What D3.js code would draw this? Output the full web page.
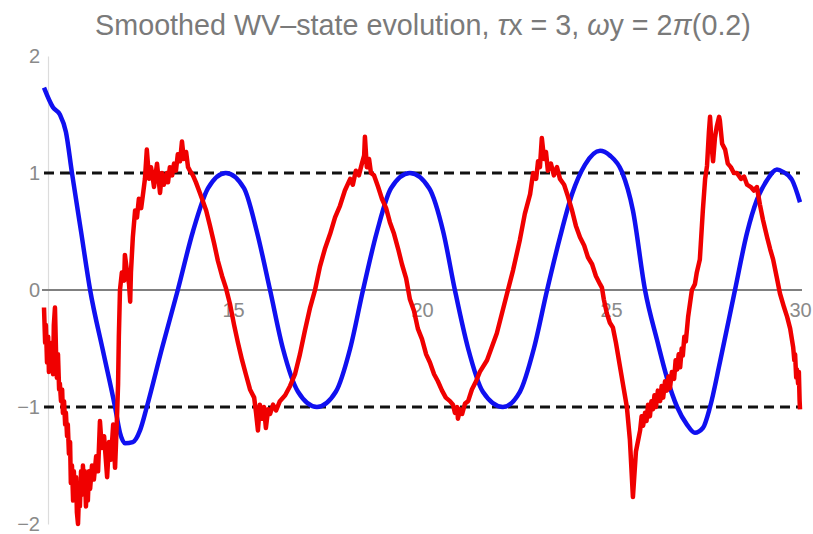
<!DOCTYPE html>
<html>
<head>
<meta charset="utf-8">
<script src="https://cdn.jsdelivr.net/npm/d3@7"></script>
<style>
  html, body { margin: 0; padding: 0; background: #fff; }
  svg { display: block; }
</style>
</head>
<body>
<svg id="chart" width="813" height="534"></svg>
<script>
// Blue: smoothed Wigner-Ville state (time, value)
const blueT = [10.00, 10.24, 10.42, 10.58, 10.74, 10.98, 11.22, 11.56, 11.88, 12.01, 12.14, 12.35, 12.54, 12.72,
  13.12, 13.54, 13.94, 14.34, 14.81, 15.29, 15.63, 15.98, 16.32, 16.72, 17.22, 17.72, 18.10, 18.44, 18.81,
  19.18, 19.68, 20.19, 20.56, 20.87, 21.22, 21.61, 22.14, 22.59, 22.96, 23.31, 23.65, 23.97, 24.31, 24.71,
  24.97, 25.29, 25.58, 25.90, 26.22, 26.48, 26.75, 27.01, 27.22, 27.43, 27.62, 27.88, 28.28, 28.60, 28.86,
  29.13, 29.39, 29.55, 29.79, 30.00];
const blueV = [1.73, 1.56, 1.50, 1.35, 1.00, 0.50, 0.00, -0.52, -1.00, -1.22, -1.31, -1.30, -1.20, -1.00,
  -0.50, 0.00, 0.50, 0.87, 1.00, 0.87, 0.50, 0.00, -0.50, -0.87, -1.00, -0.87, -0.50, 0.00, 0.50,
  0.87, 1.00, 0.87, 0.50, 0.00, -0.50, -0.87, -1.00, -0.87, -0.50, 0.00, 0.45, 0.82, 1.07, 1.19,
  1.15, 1.01, 0.68, 0.00, -0.43, -0.75, -1.00, -1.15, -1.22, -1.18, -1.00, -0.62, 0.00, 0.49, 0.77,
  0.94, 1.03, 1.01, 0.94, 0.75];

// Red: noisy estimate (time, value), ten samples per row
const redT = [
  10.00, 10.03, 10.05, 10.08, 10.11, 10.13, 10.16, 10.19, 10.21, 10.24,
  10.26, 10.29, 10.32, 10.34, 10.37, 10.40, 10.42, 10.45, 10.48, 10.50,
  10.53, 10.56, 10.58, 10.61, 10.63, 10.66, 10.69, 10.71, 10.74, 10.77,
  10.79, 10.82, 10.85, 10.87, 10.90, 10.93, 10.95, 10.98, 11.01, 11.03,
  11.06, 11.08, 11.11, 11.14, 11.16, 11.19, 11.22, 11.27, 11.32, 11.38,
  11.43, 11.48, 11.53, 11.59, 11.67, 11.72, 11.77, 11.83, 11.88, 11.93,
  11.96, 11.98, 12.01, 12.06, 12.12, 12.14, 12.20, 12.25, 12.28, 12.30,
  12.35, 12.41, 12.46, 12.51, 12.57, 12.62, 12.67, 12.72, 12.78, 12.83,
  12.86, 12.91, 12.99, 13.04, 13.07, 13.12, 13.17, 13.25, 13.28, 13.33,
  13.39, 13.44, 13.49, 13.54, 13.60, 13.65, 13.70, 13.76, 13.81, 13.86,
  13.94, 14.02, 14.10, 14.18, 14.29, 14.39, 14.50, 14.60, 14.71, 14.81,
  14.92, 15.03, 15.13, 15.24, 15.34, 15.45, 15.56, 15.61, 15.66, 15.71,
  15.77, 15.82, 15.87, 15.93, 15.98, 16.06, 16.14, 16.24, 16.38, 16.51,
  16.64, 16.77, 16.90, 17.04, 17.17, 17.30, 17.43, 17.57, 17.70, 17.83,
  17.96, 18.10, 18.17, 18.25, 18.33, 18.41, 18.47, 18.49, 18.54, 18.60,
  18.65, 18.73, 18.84, 18.94, 19.05, 19.15, 19.26, 19.37, 19.47, 19.58,
  19.68, 19.79, 19.89, 20.00, 20.11, 20.21, 20.32, 20.42, 20.53, 20.63,
  20.74, 20.82, 20.87, 20.93, 20.95, 21.01, 21.06, 21.14, 21.22, 21.32,
  21.43, 21.53, 21.72, 21.98, 22.25, 22.41, 22.59, 22.72, 22.86, 22.94,
  23.02, 23.07, 23.12, 23.17, 23.23, 23.28, 23.33, 23.41, 23.49, 23.57,
  23.65, 23.76, 23.86, 23.97, 24.07, 24.18, 24.29, 24.39, 24.50, 24.60,
  24.71, 24.76, 24.81, 24.89, 24.97, 25.05, 25.13, 25.24, 25.34, 25.42,
  25.50, 25.58, 25.66, 25.77, 25.81, 25.85, 25.90, 25.94, 25.98, 26.03,
  26.07, 26.11, 26.15, 26.19, 26.24, 26.30, 26.34, 26.38, 26.43, 26.48,
  26.52, 26.56, 26.61, 26.67, 26.71, 26.75, 26.79, 26.83, 26.87, 26.90,
  26.94, 26.98, 27.04, 27.14, 27.22, 27.27, 27.35, 27.43, 27.49, 27.54,
  27.59, 27.62, 27.67, 27.70, 27.75, 27.80, 27.86, 27.88, 27.94, 28.02,
  28.09, 28.17, 28.25, 28.33, 28.44, 28.52, 28.60, 28.70, 28.78, 28.86,
  28.94, 29.02, 29.13, 29.21, 29.29, 29.39, 29.47, 29.58, 29.66, 29.74,
  29.82, 29.85, 29.87, 29.90, 29.92, 29.95, 29.97, 29.99, 30.00];
const redV = [
  -0.15, -0.45, -0.30, -0.62, -0.40, -0.70, -0.50, -0.66, -0.45, -0.72,
  -0.30, -0.15, -0.55, -0.75, -0.55, -0.85, -0.80, -0.95, -0.85, -1.05,
  -0.95, -1.15, -1.05, -1.25, -1.15, -1.40, -1.30, -1.65, -1.50, -1.80,
  -1.55, -1.75, -1.60, -1.90, -2.00, -1.70, -1.85, -1.55, -1.75, -1.50,
  -1.70, -1.55, -1.85, -1.60, -1.80, -1.55, -1.70, -1.50, -1.62, -1.42,
  -1.55, -1.12, -1.35, -1.25, -1.60, -1.30, -1.45, -1.15, -1.52, -1.10,
  -0.80, -0.40, 0.00, 0.15, 0.08, 0.30, 0.15, 0.05, -0.10, 0.15,
  0.45, 0.68, 0.62, 0.78, 0.70, 0.82, 0.95, 1.20, 0.95, 1.05,
  1.00, 0.88, 1.08, 0.92, 0.83, 1.00, 0.90, 1.00, 0.92, 1.05,
  0.98, 1.08, 1.02, 1.16, 1.10, 1.27, 1.12, 1.18, 1.05, 1.02,
  0.98, 0.92, 0.85, 0.78, 0.68, 0.55, 0.40, 0.25, 0.12, 0.02,
  -0.12, -0.30, -0.45, -0.60, -0.72, -0.85, -0.92, -1.05, -1.20, -0.98,
  -1.10, -1.00, -1.18, -1.02, -1.06, -0.98, -1.03, -0.95, -0.90, -0.82,
  -0.72, -0.55, -0.35, -0.15, 0.00, 0.20, 0.35, 0.48, 0.62, 0.72,
  0.85, 0.95, 0.90, 1.02, 0.98, 1.08, 1.15, 1.31, 1.05, 1.12,
  1.00, 0.98, 0.88, 0.78, 0.70, 0.58, 0.48, 0.35, 0.22, 0.10,
  -0.08, -0.18, -0.33, -0.42, -0.55, -0.62, -0.72, -0.78, -0.86, -0.92,
  -0.95, -0.98, -1.05, -1.00, -1.10, -1.02, -1.06, -0.97, -0.95, -0.85,
  -0.78, -0.70, -0.60, -0.37, -0.03, 0.17, 0.43, 0.65, 0.82, 1.00,
  0.95, 1.10, 1.05, 1.30, 1.12, 1.18, 1.02, 1.08, 0.98, 1.05,
  0.95, 0.90, 0.80, 0.68, 0.55, 0.45, 0.38, 0.28, 0.22, 0.12,
  0.05, 0.02, -0.08, -0.20, -0.28, -0.32, -0.45, -0.66, -0.85, -1.00,
  -1.28, -1.77, -1.38, -1.20, -1.08, -1.16, -1.05, -1.12, -0.98, -1.08,
  -0.95, -1.02, -0.90, -1.00, -0.86, -0.95, -0.82, -0.92, -0.78, -0.86,
  -0.74, -0.84, -0.70, -0.76, -0.60, -0.68, -0.55, -0.66, -0.50, -0.56,
  -0.40, -0.44, -0.23, 0.00, 0.05, 0.15, 0.26, 0.68, 0.95, 1.06,
  1.35, 1.48, 1.20, 1.10, 1.30, 1.40, 1.48, 1.45, 1.25, 1.20,
  1.08, 1.05, 1.00, 1.00, 0.95, 0.97, 0.90, 0.88, 0.85, 0.88,
  0.73, 0.60, 0.45, 0.35, 0.26, 0.10, -0.03, -0.15, -0.23, -0.33,
  -0.49, -0.60, -0.55, -0.75, -0.68, -0.80, -0.70, -0.95, -1.02];

// Reference levels and ticks
const levels = [1, -1];
const xTicks = [15, 20, 25, 30];
const yTicks = [-2, -1, 0, 1, 2];

const svg = d3.select("#chart");

const x = d3.scaleLinear().domain([10, 30]).range([44, 800]);
const y = d3.scaleLinear().domain([-2, 2]).range([524, 56]);

const axisColor = "#8a8a8a";
const fontFamily = "'Liberation Sans', Arial, Helvetica, sans-serif";

// Vertical axis (faint) with labels
const yAxis = svg.append("g")
  .attr("transform", "translate(48,0)")
  .call(d3.axisLeft(y).tickValues(yTicks).tickSize(0).tickPadding(8)
    .tickFormat(d => d < 0 ? "\u2212" + Math.abs(d) : String(d)));
yAxis.select(".domain").attr("stroke", "#dcdcdc").attr("stroke-width", 1.2);
yAxis.selectAll("text")
  .attr("fill", axisColor)
  .style("font-family", fontFamily)
  .style("font-size", "20px");

// Horizontal axis at zero with labels below
const xAxis = svg.append("g")
  .attr("transform", `translate(0,${y(0)})`)
  .call(d3.axisBottom(x).tickValues(xTicks).tickSize(0).tickPadding(13));
xAxis.select(".domain").remove();
xAxis.selectAll("text")
  .attr("fill", axisColor)
  .style("font-family", fontFamily)
  .style("font-size", "20px");

svg.append("line")
  .attr("x1", 42).attr("x2", 802)
  .attr("y1", y(0)).attr("y2", y(0))
  .attr("stroke", "#808080").attr("stroke-width", 2.2);

// Dashed reference levels at +1 and -1
svg.selectAll("line.level")
  .data(levels)
  .join("line")
  .attr("class", "level")
  .attr("x1", x(10)).attr("x2", x(30))
  .attr("y1", d => y(d)).attr("y2", d => y(d))
  .attr("stroke", "#111")
  .attr("stroke-width", 3)
  .attr("stroke-dasharray", "10,6");

// Blue smooth curve
const blueData = blueT.map((t, i) => [t, blueV[i]]);
svg.append("path")
  .datum(blueData)
  .attr("fill", "none")
  .attr("stroke", "#1010f0")
  .attr("stroke-width", 4.5)
  .attr("stroke-linejoin", "round")
  .attr("d", d3.line().x(d => x(d[0])).y(d => y(d[1])).curve(d3.curveMonotoneX));

// Red noisy curve
const redData = redT.map((t, i) => [t, redV[i]]);
svg.append("path")
  .datum(redData)
  .attr("fill", "none")
  .attr("stroke", "#f00000")
  .attr("stroke-width", 4.5)
  .attr("stroke-linejoin", "round")
  .attr("d", d3.line().x(d => x(d[0])).y(d => y(d[1])));

// Title with italic Greek symbols
const title = svg.append("text")
  .attr("x", 423).attr("y", 35)
  .attr("text-anchor", "middle")
  .attr("fill", "#7a7a7a")
  .style("font-family", fontFamily)
  .style("font-size", "25px");
const parts = [
  ["Smoothed WV\u2013state evolution, ", false],
  ["\u03c4", true], ["x = 3, ", false],
  ["\u03c9", true], ["y = 2", false],
  ["\u03c0", true], ["(0.2)", false]
];
parts.forEach(([s, it]) => {
  title.append("tspan").text(s).style("font-style", it ? "italic" : "normal");
});
// fit the title to its intended width
const w = title.node().getComputedTextLength();
if (w > 0) title.style("font-size", (25 * 656 / w).toFixed(2) + "px");
</script>
</body>
</html>
